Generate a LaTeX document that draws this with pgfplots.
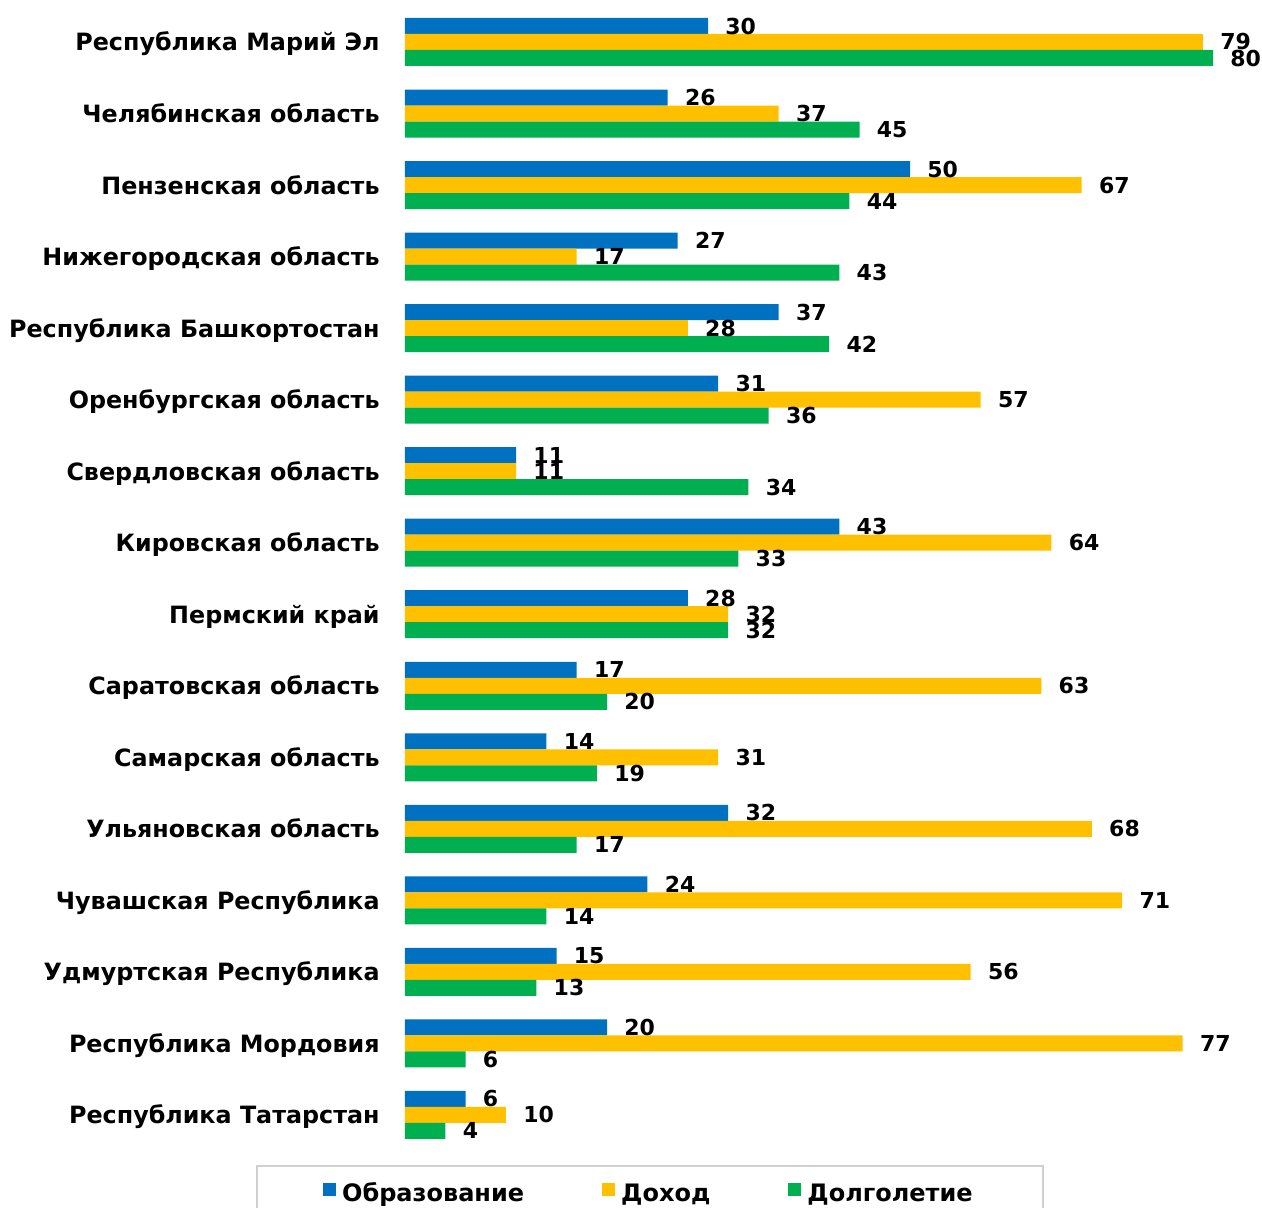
\documentclass[border=0pt]{standalone}
\usepackage{fontspec}
\setmainfont{DejaVu Sans}
\usepackage{pgfplots}
\pgfplotsset{compat=1.18}
\definecolor{cblue}{HTML}{0070C0}
\definecolor{cyellow}{HTML}{FFC000}
\definecolor{cgreen}{HTML}{00B050}
\definecolor{lgray}{HTML}{D0D0D0}
\begin{document}
\begin{tikzpicture}
\begin{axis}[
  scale only axis, width=428.5pt, height=582.5pt,
  xbar, xmin=0, xmax=84.85, ymin=-0.587, ymax=15.70, y dir=reverse,
  bar width=0.2237,
  axis line style={draw=none},
  xtick=\empty, ytick={0,...,15},
  yticklabels={Республика Марий Эл, Челябинская область, Пензенская область, Нижегородская область, Республика Башкортостан, Оренбургская область, Свердловская область, Кировская область, Пермский край, Саратовская область, Самарская область, Ульяновская область, Чувашская Республика, Удмуртская Республика, Республика Мордовия, Республика Татарстан},
  major tick length=0pt,
  yticklabel style={font=\bfseries\fontsize{11.9}{12}\selectfont, anchor=base east, inner sep=0pt, xshift=-12.5pt, yshift=-4.5pt},
  nodes near coords,
  every node near coord/.append style={font=\bfseries\fontsize{11}{11}\selectfont, anchor=west, inner sep=0pt, xshift=8.5pt, text=black},
  /pgf/number format/assume math mode=true,
  legend columns=3,
  legend style={at={(0.2858,0)}, anchor=north, draw=lgray, line width=0.8pt, font=\bfseries\fontsize{12}{12}\selectfont, inner xsep=33pt, inner ysep=6.5pt, /tikz/every even column/.append style={column sep=37pt}},
  legend image code/.code={\draw[#1,draw=none] (0pt,-1pt) rectangle (6.5pt,5.5pt); \path (7.5pt,0pt);},
  clip=false,
]
\addplot[fill=cblue, draw=none, bar shift=-0.2237] coordinates {(30,0) (26,1) (50,2) (27,3) (37,4) (31,5) (11,6) (43,7) (28,8) (17,9) (14,10) (32,11) (24,12) (15,13) (20,14) (6,15)};
\addplot[fill=cyellow, draw=none, bar shift=0] coordinates {(79,0) (37,1) (67,2) (17,3) (28,4) (57,5) (11,6) (64,7) (32,8) (63,9) (31,10) (68,11) (71,12) (56,13) (77,14) (10,15)};
\addplot[fill=cgreen, draw=none, bar shift=0.2237] coordinates {(80,0) (45,1) (44,2) (43,3) (42,4) (36,5) (34,6) (33,7) (32,8) (20,9) (19,10) (17,11) (14,12) (13,13) (6,14) (4,15)};
\legend{Образование, Доход, Долголетие}
\end{axis}
\pgfresetboundingbox
\path[use as bounding box] ([xshift=-202.5pt]current axis.north west) rectangle ([yshift=-21pt]current axis.south east);
\end{tikzpicture}
\end{document}
